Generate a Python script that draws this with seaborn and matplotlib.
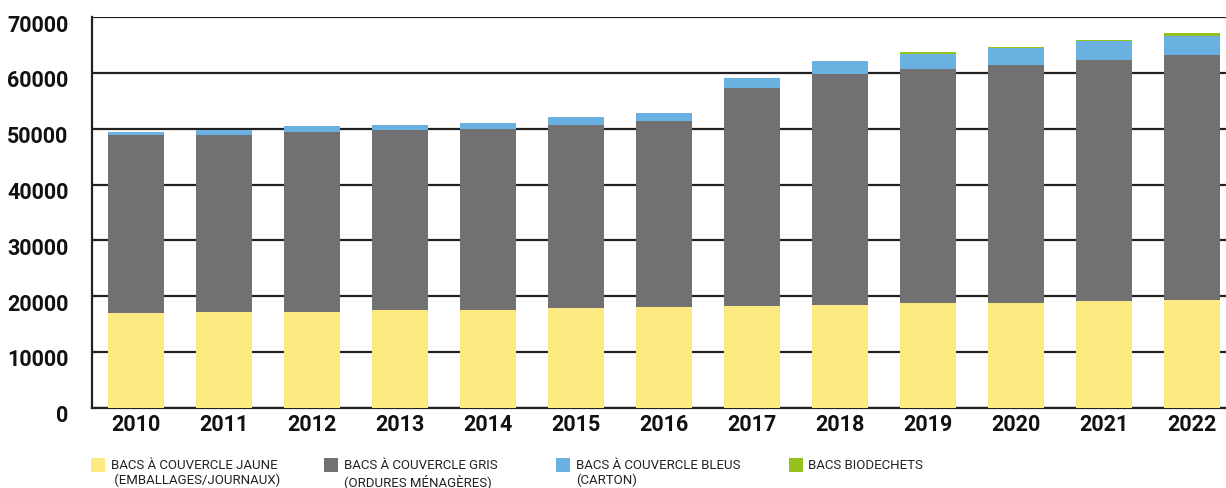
import numpy as np
import pandas as pd
import matplotlib.pyplot as plt
import matplotlib.transforms as mtransforms
import seaborn as sns
from matplotlib.patches import Rectangle

years = ["2010", "2011", "2012", "2013", "2014", "2015", "2016",
         "2017", "2018", "2019", "2020", "2021", "2022"]
jaune = [16900, 17100, 17250, 17450, 17450, 17800, 18000, 18150, 18350, 18700, 18700, 19050, 19250]
gris = [31950, 31800, 32150, 32300, 32500, 32850, 33400, 39100, 41400, 41950, 42700, 43200, 43900]
bleus = [500, 950, 1050, 900, 1050, 1450, 1400, 1800, 2300, 2700, 3000, 3400, 3400]
bio = [0, 0, 0, 0, 0, 0, 0, 0, 0, 350, 250, 200, 550]

labels = ["BACS À COUVERCLE JAUNE\n (EMBALLAGES/JOURNAUX)",
          "BACS À COUVERCLE GRIS\n(ORDURES MÉNAGÈRES)",
          "BACS À COUVERCLE BLEUS\n(CARTON)",
          "BACS BIODECHETS"]
colors = ["#FDE982", "#717171", "#6AB0E0", "#95C11F"]

df = pd.DataFrame({"year": years, "jaune": jaune, "gris": gris, "bleus": bleus, "bio": bio})
# cumulative tops, drawn from tallest to shortest so each layer covers the one below
df["c_jaune"] = df["jaune"]
df["c_gris"] = df["c_jaune"] + df["gris"]
df["c_bleus"] = df["c_gris"] + df["bleus"]
df["c_bio"] = df["c_bleus"] + df["bio"]

sns.set_style("white")
plt.rcParams['font.family'] = ['Roboto', 'DejaVu Sans']

W, H = 1226, 489
fig = plt.figure(figsize=(W / 100, H / 100), dpi=100)
ax = fig.add_axes([0.075, 0.164, 0.933, 0.799])

for col, c in zip(["c_bio", "c_bleus", "c_gris", "c_jaune"], colors[::-1]):
    sns.barplot(data=df, x="year", y=col, color=c, saturation=1, width=0.64,
                linewidth=0, ax=ax, zorder=3)

ax.set_xlim(-0.5, 12.5)
ax.set_ylim(0, 70000)
ax.set_yticks(np.arange(0, 70001, 10000))
ax.yaxis.grid(True, color="#222222", linewidth=1.6, zorder=0)
ax.set_axisbelow(True)
for s in ["top", "right"]:
    ax.spines[s].set_visible(False)
for s in ["left", "bottom"]:
    ax.spines[s].set_color("#222222")
    ax.spines[s].set_linewidth(1.6)
ax.set_xlabel("")
ax.set_ylabel("")
ax.tick_params(axis="both", length=0, labelsize=15.5)
ax.tick_params(axis="y", pad=17)
ax.tick_params(axis="x", pad=4)
shift = mtransforms.ScaledTranslation(0, -5 / 100, fig.dpi_scale_trans)
for t in ax.get_yticklabels():
    t.set_transform(t.get_transform() + shift)
for t in ax.get_xticklabels() + ax.get_yticklabels():
    t.set_fontweight("bold")
    t.set_color("#111111")

# legend below the chart, square aligned with the first text line
for i, (lab, c) in enumerate(zip(labels, colors)):
    x0 = 91 + i * 232.5
    fig.add_artist(Rectangle((x0 / W, 1 - 473 / H), 14 / W, 14 / H,
                             transform=fig.transFigure, facecolor=c, edgecolor="none"))
    fig.text((x0 + 20) / W, 1 - 459 / H, lab, ha="left", va="top",
             fontsize=9.5, color="#222222", linespacing=1.2, fontstretch="condensed")

fig.savefig("out.png", dpi=100)
